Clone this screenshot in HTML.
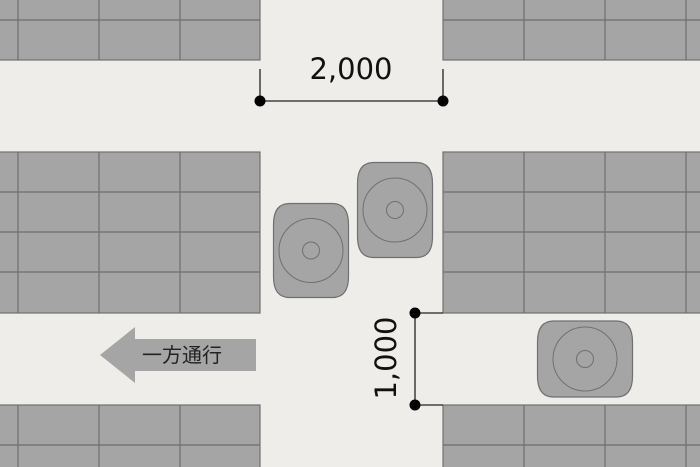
<!DOCTYPE html>
<html><head><meta charset="utf-8"><style>html,body{margin:0;padding:0;background:#eeede9}svg{display:block}</style></head>
<body>
<svg width="700" height="467" viewBox="0 0 700 467" xmlns="http://www.w3.org/2000/svg">
<rect width="700" height="467" fill="#eeede9"/>
<g fill="#a5a5a5" stroke="#707070" stroke-width="1.2">
<rect x="-2" y="-2" width="262" height="62"/>
<rect x="443" y="-2" width="260" height="62"/>
<rect x="-2" y="152" width="262" height="161"/>
<rect x="443" y="152" width="260" height="161"/>
<rect x="-2" y="405" width="262" height="64"/>
<rect x="443" y="405" width="260" height="64"/>
</g>
<g stroke="#6e6e6e" stroke-width="1.2">
<line x1="0" y1="20" x2="260" y2="20"/><line x1="443" y1="20" x2="700" y2="20"/>
<line x1="18" y1="0" x2="18" y2="60"/><line x1="99" y1="0" x2="99" y2="60"/><line x1="180" y1="0" x2="180" y2="60"/>
<line x1="524" y1="0" x2="524" y2="60"/><line x1="605" y1="0" x2="605" y2="60"/><line x1="686" y1="0" x2="686" y2="60"/>
<line x1="0" y1="192" x2="260" y2="192"/><line x1="0" y1="232" x2="260" y2="232"/><line x1="0" y1="272" x2="260" y2="272"/>
<line x1="443" y1="192" x2="700" y2="192"/><line x1="443" y1="232" x2="700" y2="232"/><line x1="443" y1="272" x2="700" y2="272"/>
<line x1="18" y1="152" x2="18" y2="313"/><line x1="99" y1="152" x2="99" y2="313"/><line x1="180" y1="152" x2="180" y2="313"/>
<line x1="524" y1="152" x2="524" y2="313"/><line x1="605" y1="152" x2="605" y2="313"/><line x1="686" y1="152" x2="686" y2="313"/>
<line x1="0" y1="445" x2="260" y2="445"/><line x1="443" y1="445" x2="700" y2="445"/>
<line x1="18" y1="405" x2="18" y2="467"/><line x1="99" y1="405" x2="99" y2="467"/><line x1="180" y1="405" x2="180" y2="467"/>
<line x1="524" y1="405" x2="524" y2="467"/><line x1="605" y1="405" x2="605" y2="467"/><line x1="686" y1="405" x2="686" y2="467"/>
</g>
<g fill="#a5a5a5" stroke="#707070" stroke-width="1.2">
<path d="M289.5,203.5 L332.5,203.5 Q348.5,203.5 348.5,224.5 L348.5,276.5 Q348.5,297.5 332.5,297.5 L289.5,297.5 Q273.5,297.5 273.5,276.5 L273.5,224.5 Q273.5,203.5 289.5,203.5 Z"/>
<path d="M373.5,162.5 L416.5,162.5 Q432.5,162.5 432.5,183.5 L432.5,236.5 Q432.5,257.5 416.5,257.5 L373.5,257.5 Q357.5,257.5 357.5,236.5 L357.5,183.5 Q357.5,162.5 373.5,162.5 Z"/>
<path d="M553.5,321 L616.5,321 Q632.5,321 632.5,342 L632.5,376 Q632.5,397 616.5,397 L553.5,397 Q537.5,397 537.5,376 L537.5,342 Q537.5,321 553.5,321 Z"/>
</g>
<g fill="none" stroke="#707070" stroke-width="1">
<circle cx="311" cy="250.5" r="32"/><circle cx="311" cy="250.5" r="8.5"/>
<circle cx="395" cy="210" r="32"/><circle cx="395" cy="210" r="8.5"/>
<circle cx="585" cy="359" r="32"/><circle cx="585" cy="359" r="8.5"/>
</g>
<g stroke="#222" stroke-width="1.3">
<line x1="260" y1="101" x2="443" y2="101"/>
<line x1="260" y1="69" x2="260" y2="101"/><line x1="443" y1="69" x2="443" y2="101"/>
<line x1="415" y1="313" x2="415" y2="405"/>
<line x1="415" y1="313" x2="443" y2="313"/><line x1="415" y1="405" x2="443" y2="405"/>
</g>
<g fill="#000">
<circle cx="260" cy="101" r="5.5"/><circle cx="443" cy="101" r="5.5"/>
<circle cx="415" cy="313" r="5.5"/><circle cx="415" cy="405" r="5.5"/>
</g>
<text x="351" y="79" font-family="DejaVu Sans, Liberation Sans, sans-serif" font-size="29" text-anchor="middle" fill="#111">2,000</text>
<text transform="translate(396,358) rotate(-90)" font-family="DejaVu Sans, Liberation Sans, sans-serif" font-size="29" text-anchor="middle" fill="#111">1,000</text>
<polygon points="100,355 135,327 135,339 256,339 256,371 135,371 135,383" fill="#a5a5a5"/>
<text x="142" y="362" font-family="Liberation Sans, Noto Sans CJK JP, sans-serif" font-size="20" fill="#222">一方通行</text>
</svg>
</body></html>
